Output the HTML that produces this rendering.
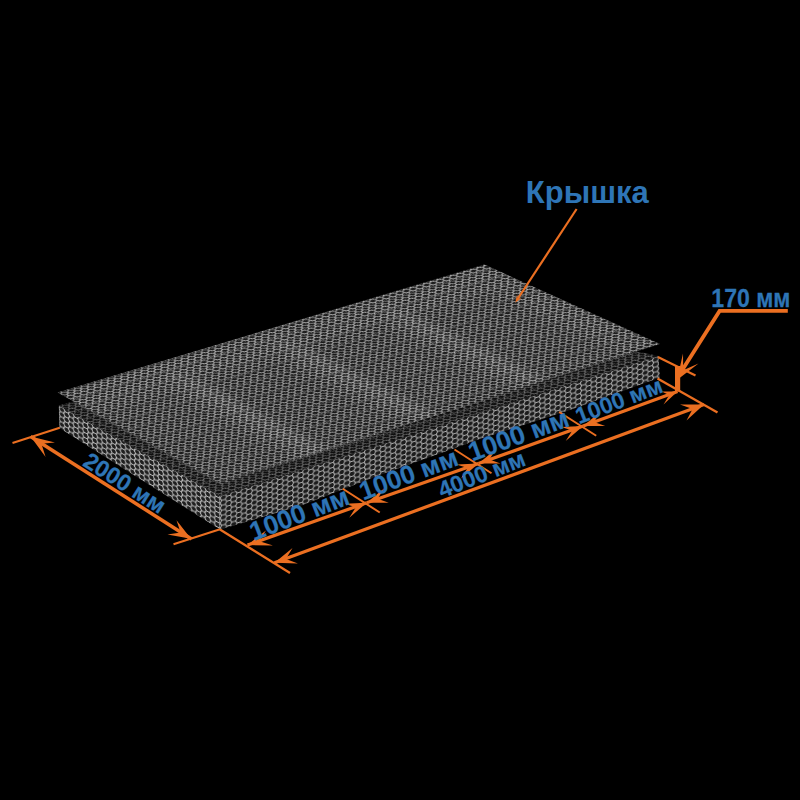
<!DOCTYPE html>
<html><head><meta charset="utf-8">
<style>
html,body{margin:0;padding:0;background:#000;overflow:hidden;}
svg{display:block;}
text{font-family:"Liberation Sans",sans-serif;font-weight:bold;fill:#2E75B6;}
text.s{stroke:#2E75B6;stroke-width:0.25px;}
</style></head>
<body>
<svg width="800" height="800" viewBox="0 0 800 800">
<defs>
<pattern id="mLid" width="7" height="7" patternUnits="userSpaceOnUse" patternTransform="matrix(0.9579,-0.2871,0.8726,0.4884,57.5,392.5)"><rect width="7" height="7" fill="#1a1a1a"/><path d="M3.5,0 V1.3 L0,3.5 V4.8 L3.5,7 M3.5,1.3 L7,3.5 V4.8 L3.5,7 M0,0 V1.3 M7,0 V1.3" fill="none" stroke="#b0b0b0" stroke-width="1.05"/></pattern>
<pattern id="mTop" width="7" height="7" patternUnits="userSpaceOnUse" patternTransform="matrix(0.9579,-0.2871,0.8726,0.4884,58.75,405.5)"><rect width="7" height="7" fill="#0e0e0e"/><path d="M3.5,0 V1.3 L0,3.5 V4.8 L3.5,7 M3.5,1.3 L7,3.5 V4.8 L3.5,7 M0,0 V1.3 M7,0 V1.3" fill="none" stroke="#787878" stroke-width="1.0"/></pattern>
<pattern id="mSideR" width="10.800" height="6.235" patternUnits="userSpaceOnUse" patternTransform="matrix(0.9526,-0.3041,0.0000,0.8000,220,496)"><rect width="10.800" height="6.235" fill="#1c1c1c"/><path d="M0,3.118 L1.800,0 L5.400,0 L7.200,3.118 L5.400,6.235 L1.800,6.235 Z M7.200,3.118 L10.800,3.118" fill="none" stroke="#acacac" stroke-width="1.15"/></pattern>
<pattern id="mSideL" width="10.800" height="6.235" patternUnits="userSpaceOnUse" patternTransform="matrix(0.8720,0.4894,0.0000,0.8000,58.75,405.5)"><rect width="10.800" height="6.235" fill="#202020"/><path d="M0,3.118 L1.800,0 L5.400,0 L7.200,3.118 L5.400,6.235 L1.800,6.235 Z M7.200,3.118 L10.800,3.118" fill="none" stroke="#bcbcbc" stroke-width="1.3"/></pattern>
<clipPath id="clipLid"><polygon points="57.50,392.50 484.50,264.50 660.00,344.00 221.00,484.00"/></clipPath>
<filter id="blur" x="-10%" y="-10%" width="120%" height="120%"><feGaussianBlur stdDeviation="3.5"/></filter>
</defs>
<rect width="800" height="800" fill="#000"/>
<polygon points="58.75,405.50 220.00,496.00 220.00,529.50 59.40,428.00" fill="url(#mSideL)"/>
<polygon points="220.00,496.00 658.50,356.00 660.00,377.50 570.00,410.00 480.00,439.00 380.00,475.00 300.00,506.00 220.00,529.50" fill="url(#mSideR)"/>
<polygon points="58.75,405.50 75.00,401.00 640.00,352.00 658.50,356.00 220.00,496.00" fill="url(#mTop)"/>
<polygon points="57.50,392.50 484.50,264.50 660.00,344.00 221.00,484.00" fill="url(#mLid)"/>
<g clip-path="url(#clipLid)"><g filter="url(#blur)">
<polygon points="87.73,414.63 169.12,389.83 300.10,460.38 217.00,486.78" fill="#000" fill-opacity="0.09"/>
<polygon points="194.82,382.00 276.21,357.19 409.44,425.64 326.34,452.04" fill="#000" fill-opacity="0.09"/>
<polygon points="301.91,349.36 383.31,324.55 518.79,390.91 435.68,417.31" fill="#000" fill-opacity="0.09"/>
<polygon points="409.01,316.72 490.40,291.92 628.13,356.17 545.03,382.57" fill="#000" fill-opacity="0.09"/>
<polygon points="163.22,373.97 173.48,370.85 327.77,453.39 317.25,456.74" fill="#fff" fill-opacity="0.07"/>
<polygon points="270.11,341.51 280.37,338.40 437.31,418.46 426.79,421.82" fill="#fff" fill-opacity="0.07"/>
<polygon points="377.01,309.06 387.27,305.95 546.85,383.54 536.34,386.90" fill="#fff" fill-opacity="0.07"/>
</g></g>
<line x1="12.50" y1="443.00" x2="59.75" y2="427.75" stroke="#EB6F21" stroke-width="2.2"/>
<line x1="173.50" y1="544.25" x2="220.00" y2="529.25" stroke="#EB6F21" stroke-width="2.2"/>
<line x1="30.60" y1="436.50" x2="191.50" y2="539.00" stroke="#EB6F21" stroke-width="3.5"/>
<polygon points="30.60,436.50 55.00,442.50 41.44,443.79 45.60,457.00" fill="#EB6F21"/>
<polygon points="191.00,538.75 176.50,520.25 180.55,532.49 167.50,534.50" fill="#EB6F21"/>
<line x1="220.00" y1="529.50" x2="290.00" y2="573.00" stroke="#EB6F21" stroke-width="2.3"/>
<line x1="247.50" y1="545.10" x2="366.75" y2="502.75" stroke="#EB6F21" stroke-width="3.2"/>
<line x1="366.75" y1="502.75" x2="478.50" y2="463.50" stroke="#EB6F21" stroke-width="3.2"/>
<line x1="478.50" y1="463.50" x2="583.20" y2="426.00" stroke="#EB6F21" stroke-width="3.2"/>
<line x1="583.20" y1="426.00" x2="677.50" y2="391.50" stroke="#EB6F21" stroke-width="3.2"/>
<line x1="274.50" y1="562.75" x2="704.00" y2="404.50" stroke="#EB6F21" stroke-width="3.2"/>
<polygon points="274.50,562.75 298.00,563.50 285.91,558.93 292.50,548.10" fill="#EB6F21"/>
<polygon points="704.00,404.50 680.00,404.50 692.59,408.90 686.50,420.50" fill="#EB6F21"/>
<polygon points="247.50,545.10 273.00,545.50 259.57,541.20 265.90,530.50" fill="#EB6F21"/>
<polygon points="677.50,391.50 661.50,391.50 669.25,395.07 663.50,404.50" fill="#EB6F21"/>
<polygon points="366.75,502.75 344.75,503.75 355.89,507.15 349.25,517.75" fill="#EB6F21"/>
<polygon points="366.75,502.75 388.75,502.75 377.61,498.76 384.25,488.25" fill="#EB6F21"/>
<line x1="342.75" y1="488.75" x2="379.75" y2="512.50" stroke="#EB6F21" stroke-width="2"/>
<polygon points="478.50,463.50 456.50,464.50 467.64,467.90 461.00,478.50" fill="#EB6F21"/>
<polygon points="478.50,463.50 500.50,463.50 489.36,459.51 496.00,449.00" fill="#EB6F21"/>
<line x1="454.50" y1="449.50" x2="491.50" y2="473.25" stroke="#EB6F21" stroke-width="2"/>
<polygon points="583.20,426.00 561.20,427.00 572.34,430.40 565.70,441.00" fill="#EB6F21"/>
<polygon points="583.20,426.00 605.20,426.00 594.06,422.01 600.70,411.50" fill="#EB6F21"/>
<line x1="559.20" y1="412.00" x2="596.20" y2="435.75" stroke="#EB6F21" stroke-width="2"/>
<line x1="657.50" y1="378.50" x2="717.50" y2="412.50" stroke="#EB6F21" stroke-width="2.3"/>
<line x1="657.90" y1="357.00" x2="695.50" y2="375.40" stroke="#EB6F21" stroke-width="2.2"/>
<polyline points="787.80,310.90 719.60,310.90 681.00,372.00" fill="none" stroke="#EB6F21" stroke-width="3.8" stroke-linejoin="miter"/>
<line x1="677.60" y1="366.00" x2="677.60" y2="391.50" stroke="#EB6F21" stroke-width="5.2"/>
<polygon points="677.00,380.00 683.00,353.50 683.19,370.32 698.50,363.50" fill="#EB6F21"/>
<line x1="576.60" y1="209.00" x2="517.00" y2="300.00" stroke="#EB6F21" stroke-width="2.2"/>
<polygon points="515.30,302.50 517.20,294.50 517.73,298.81 521.50,298.20" fill="#EB6F21"/>
<text x="525.8" y="202.8" font-size="31">Крышка</text>
<text class="s" transform="translate(711.3,306.5) scale(1,1.08)" font-size="23.1">170 мм</text>
<text class="s" transform="translate(81.70,465.10) rotate(32.35) scale(1,1.0)" font-size="23.1">2000 мм</text>
<text class="s" transform="translate(253.80,541.10) rotate(-21.10) scale(1,1.0)" font-size="26.2">1000 мм</text>
<text class="s" transform="translate(363.20,500.45) rotate(-20.30) scale(1,1.0)" font-size="25.9">1000 мм</text>
<text class="s" transform="translate(472.20,461.50) rotate(-20.00) scale(1,1.0)" font-size="26.4">1000 мм</text>
<text class="s" transform="translate(579.10,424.20) rotate(-20.90) scale(1,1.0)" font-size="22.9">1000 мм</text>
<text class="s" transform="translate(441.90,498.20) rotate(-21.40) scale(1,1.0)" font-size="23.0">4000 мм</text>
</svg>
</body></html>
